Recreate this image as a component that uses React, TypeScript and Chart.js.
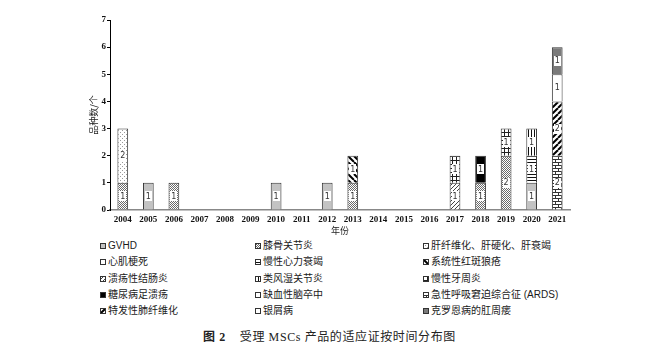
import React, { useEffect, useRef } from 'react';
import { Chart, registerables } from 'chart.js';
Chart.register(...registerables);

const years = ['2004','2005','2006','2007','2008','2009','2010','2011','2012','2013','2014','2015','2016','2017','2018','2019','2020','2021'];
const categories = ['GVHD','膝骨关节炎','肝纤维化、肝硬化、肝衰竭','心肌梗死','慢性心力衰竭','系统性红斑狼疮','溃疡性结肠炎','类风湿关节炎','慢性牙周炎','糖尿病足溃疡','缺血性脑卒中','急性呼吸窘迫综合征 (ARDS)','特发性肺纤维化','银屑病','克罗恩病的肛周瘘'];
//                 04 05 06 07 08 09 10 11 12 13 14 15 16 17 18 19 20 21
const gvhd =      [0, 1, 0, 0, 0, 0, 1, 0, 1, 0, 0, 0, 0, 0, 0, 0, 1, 0];
const knee =      [1, 0, 1, 0, 0, 0, 0, 0, 0, 1, 0, 0, 0, 0, 1, 2, 0, 0];
const liver =     [2, 0, 0, 0, 0, 0, 0, 0, 0, 0, 0, 0, 0, 0, 0, 0, 0, 0];
const mi =        [0, 0, 0, 0, 0, 0, 0, 0, 0, 0, 0, 0, 0, 0, 0, 0, 0, 0];
const chf =       [0, 0, 0, 0, 0, 0, 0, 0, 0, 0, 0, 0, 0, 0, 0, 0, 1, 0];
const sle =       [0, 0, 0, 0, 0, 0, 0, 0, 0, 1, 0, 0, 0, 0, 0, 0, 0, 0];
const uc =        [0, 0, 0, 0, 0, 0, 0, 0, 0, 0, 0, 0, 0, 1, 0, 0, 0, 0];
const ra =        [0, 0, 0, 0, 0, 0, 0, 0, 0, 0, 0, 0, 0, 0, 0, 0, 1, 0];
const perio =     [0, 0, 0, 0, 0, 0, 0, 0, 0, 0, 0, 0, 0, 1, 0, 1, 0, 0];
const dfu =       [0, 0, 0, 0, 0, 0, 0, 0, 0, 0, 0, 0, 0, 0, 1, 0, 0, 0];
const stroke =    [0, 0, 0, 0, 0, 0, 0, 0, 0, 0, 0, 0, 0, 0, 0, 0, 0, 0];
const ards =      [0, 0, 0, 0, 0, 0, 0, 0, 0, 0, 0, 0, 0, 0, 0, 0, 0, 2];
const ipf =       [0, 0, 0, 0, 0, 0, 0, 0, 0, 0, 0, 0, 0, 0, 0, 0, 0, 2];
const psoriasis = [0, 0, 0, 0, 0, 0, 0, 0, 0, 0, 0, 0, 0, 0, 0, 0, 0, 1];
const crohn =     [0, 0, 0, 0, 0, 0, 0, 0, 0, 0, 0, 0, 0, 0, 0, 0, 0, 1];
const seriesValues = [gvhd, knee, liver, mi, chf, sle, uc, ra, perio, dfu, stroke, ards, ipf, psoriasis, crohn];
const yTicks = [0, 1, 2, 3, 4, 5, 6, 7];

const patternKinds = ['gray','checker','dots','white','hlines','diagBack','diagThin','vlines','grid','black','white','brick','diagFwd','white','dark'];

function makeTile(kind: string): HTMLCanvasElement {
  const c = document.createElement('canvas');
  let w = 4, h = 4;
  if (kind === 'checker') { w = 2; h = 2; }
  if (kind === 'hlines') { w = 4; h = 3; }
  if (kind === 'vlines') { w = 3; h = 4; }
  if (kind === 'diagBack' || kind === 'diagFwd' || kind === 'brick') { w = 6; h = 6; }
  c.width = w; c.height = h;
  const ctx = c.getContext('2d')!;
  ctx.fillStyle = '#fff';
  ctx.fillRect(0, 0, w, h);
  switch (kind) {
    case 'gray': ctx.fillStyle = '#c3c3c3'; ctx.fillRect(0, 0, w, h); break;
    case 'black': ctx.fillStyle = '#000'; ctx.fillRect(0, 0, w, h); break;
    case 'dark': ctx.fillStyle = '#7a7a7a'; ctx.fillRect(0, 0, w, h); break;
    case 'white': break;
    case 'checker': ctx.fillStyle = '#6a6a6a'; ctx.fillRect(0, 0, 1, 1); ctx.fillRect(1, 1, 1, 1); break;
    case 'dots': ctx.fillStyle = '#9a9a9a'; ctx.fillRect(0, 0, 1, 1); ctx.fillRect(2, 2, 1, 1); break;
    case 'hlines': ctx.fillStyle = '#111'; ctx.fillRect(0, 0, w, 1); break;
    case 'vlines': ctx.fillStyle = '#111'; ctx.fillRect(0, 0, 1, h); break;
    case 'grid': ctx.fillStyle = '#222'; ctx.fillRect(0, 0, w, 1); ctx.fillRect(0, 0, 1, h); break;
    case 'brick':
      ctx.fillStyle = '#333';
      ctx.fillRect(0, 0, w, 1); ctx.fillRect(0, 3, w, 1);
      ctx.fillRect(0, 0, 1, 3); ctx.fillRect(3, 3, 1, 3);
      break;
    case 'diagThin':
      ctx.strokeStyle = '#444'; ctx.lineWidth = 1;
      for (const o of [-4, 0, 4]) { ctx.beginPath(); ctx.moveTo(o, h); ctx.lineTo(o + w, 0); ctx.stroke(); }
      break;
    case 'diagBack':
      ctx.strokeStyle = '#000'; ctx.lineWidth = 2;
      for (const o of [-6, 0, 6]) { ctx.beginPath(); ctx.moveTo(o, 0); ctx.lineTo(o + w, h); ctx.stroke(); }
      break;
    case 'diagFwd':
      ctx.strokeStyle = '#000'; ctx.lineWidth = 2;
      for (const o of [-6, 0, 6]) { ctx.beginPath(); ctx.moveTo(o, h); ctx.lineTo(o + w, 0); ctx.stroke(); }
      break;
  }
  return c;
}

function makePattern(kind: string): CanvasPattern {
  const c = document.createElement('canvas');
  const ctx = c.getContext('2d')!;
  return ctx.createPattern(makeTile(kind), 'repeat')!;
}

const labelPlugin = {
  id: 'segLabels',
  afterDatasetsDraw(chart: any) {
    const ctx = chart.ctx;
    ctx.save();
    ctx.font = '8px "DejaVu Sans"';
    ctx.textAlign = 'center';
    ctx.textBaseline = 'middle';
    chart.data.datasets.forEach((ds: any, di: number) => {
      const meta = chart.getDatasetMeta(di);
      meta.data.forEach((el: any, i: number) => {
        const v = ds.data[i];
        if (!v) return;
        const cx = el.x;
        const cy = (el.y + el.base) / 2;
        ctx.fillStyle = '#fff';
        ctx.fillRect(Math.round(cx - 3.5), Math.round(cy - 5), 7, 10);
        ctx.fillStyle = '#333';
        ctx.fillText(String(v), cx, cy + 0.5);
      });
    });
    ctx.restore();
  },
};

function Swatch({ kind }: { kind: string }) {
  const ref = useRef<HTMLCanvasElement>(null);
  useEffect(() => {
    const c = ref.current!;
    const ctx = c.getContext('2d')!;
    ctx.fillStyle = makePattern(kind);
    ctx.fillRect(0, 0, 6, 6);
    ctx.strokeStyle = '#333';
    ctx.lineWidth = 1;
    ctx.strokeRect(0.5, 0.5, 5, 5);
  }, [kind]);
  return <canvas ref={ref} width={6} height={6} style={{ position: 'absolute', left: 0, top: 3 }} />;
}

export default function App() {
  const canvasRef = useRef<HTMLCanvasElement>(null);
  useEffect(() => {
    const chart = new Chart(canvasRef.current!, {
      type: 'bar',
      data: {
        labels: years,
        datasets: categories.map((name, k) => ({
          label: name,
          data: seriesValues[k],
          backgroundColor: makePattern(patternKinds[k]),
          borderColor: '#333',
          borderWidth: 1,
          barPercentage: 0.42,
          categoryPercentage: 1,
        })),
      },
      options: {
        animation: false,
        responsive: false,
        devicePixelRatio: 1,
        layout: { padding: { left: 88, top: 20, right: 81, bottom: 0 } },
        plugins: { legend: { display: false }, tooltip: { enabled: false } },
        scales: {
          x: {
            stacked: true,
            grid: { display: true, drawOnChartArea: false, drawTicks: false },
            border: { color: '#888', width: 1.5 },
            ticks: { color: '#111', font: { family: '"Liberation Serif"', weight: 'bold', size: 9 }, padding: 4, maxRotation: 0, autoSkip: false },
            title: { display: true, text: '年份', color: '#222', font: { family: '"Noto Sans CJK SC"', size: 9 }, padding: { top: 0, bottom: 2 } },
            afterFit: (s: any) => { s.height = 28; },
          },
          y: {
            stacked: true,
            min: 0,
            max: 7,
            afterBuildTicks: (s: any) => { s.ticks = yTicks.map((v) => ({ value: v })); },
            grid: { display: true, drawOnChartArea: false, drawTicks: true, tickLength: 3, color: '#000' },
            border: { color: '#000', width: 1 },
            ticks: { color: '#111', font: { family: '"Liberation Serif"', weight: 'bold', size: 9 }, padding: 1 },
            title: { display: true, text: '品种数/个', color: '#222', font: { family: '"Noto Sans CJK SC"', size: 9 }, padding: { top: 0, bottom: 0 } },
            afterFit: (s: any) => { s.width = 22; },
          },
        },
      },
      plugins: [labelPlugin],
    });
    return () => chart.destroy();
  }, []);

  const colX = [100, 255, 423];
  const rowY = [240, 256, 273, 289, 305];
  return (
    <div style={{ position: 'absolute', left: 0, top: 0, width: 651, height: 353, background: '#fff' }}>
      <canvas ref={canvasRef} width={651} height={238} style={{ position: 'absolute', left: 0, top: 0 }} />
      {categories.map((name, k) => (
        <div key={name} style={{ position: 'absolute', left: colX[k % 3], top: rowY[Math.floor(k / 3)], height: 12, whiteSpace: 'nowrap' }}>
          <Swatch kind={patternKinds[k]} />
          <span style={{ position: 'absolute', left: 8, top: 0, fontSize: 10, lineHeight: '12px', color: '#1a1a1a', fontFamily: '"Liberation Sans", "Noto Sans CJK SC", sans-serif' }}>{name}</span>
        </div>
      ))}
      <div style={{ position: 'absolute', left: 203, top: 329, fontSize: 12, lineHeight: '16px', color: '#222', fontFamily: '"Liberation Serif", "Noto Sans CJK SC", serif', whiteSpace: 'nowrap', letterSpacing: '0.6px' }}>
        <b>图 2</b>
        <span style={{ marginLeft: 14 }}>受理 MSCs 产品的适应证按时间分布图</span>
      </div>
    </div>
  );
}
